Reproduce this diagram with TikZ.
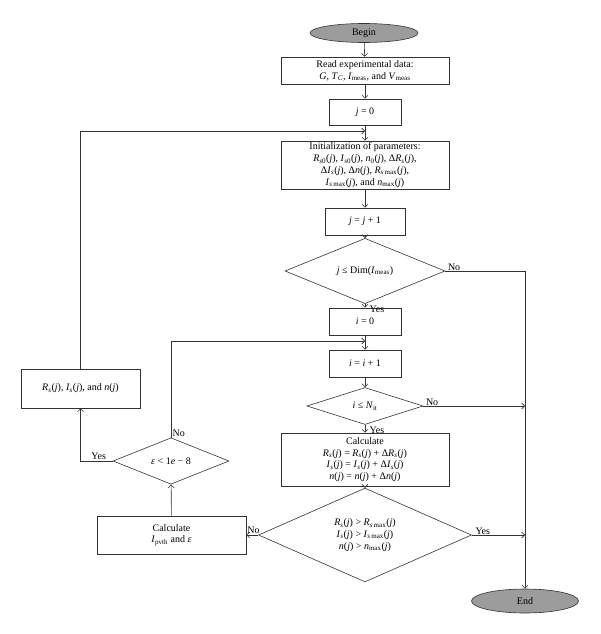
\documentclass[tikz,border=0pt]{standalone}
\usepackage{fontspec}
\setmainfont{Liberation Serif}
\usetikzlibrary{shapes.geometric,arrows.meta,calc}
\newcommand{\iv}[1]{\textit{#1}}
\newcommand{\sbs}[1]{\textsubscript{#1}}
\definecolor{lnc}{HTML}{333333}
\definecolor{ovl}{HTML}{9C9C9C}
\begin{document}
\begin{tikzpicture}[x=1pt,y=-1pt,
  every node/.style={font=\fontsize{10}{11.7}\selectfont, text=black},
  box/.style={draw=lnc, line width=0.6pt, rectangle, inner sep=1pt, align=center},
  dec/.style={draw=lnc, line width=0.6pt, diamond, inner sep=0pt, align=center},
  term/.style={draw=lnc, line width=0.6pt, ellipse, fill=ovl, inner sep=0pt},
  arr/.style={draw=lnc, line width=0.6pt, -{Straight Barb[length=3pt,width=6pt]}},
  lbl/.style={inner sep=0.5pt}]
\useasboundingbox (0,0) rectangle (600,634);
\node[term, minimum width=108pt, minimum height=19pt] (begin) at (364,33) {Begin};
\node[box, minimum width=168pt, minimum height=27pt] (read) at (365,70.5)
  {Read experimental data:\\ \iv{G}, \iv{T}\sbs{\iv{C}}, \iv{I}\sbs{meas}, and \iv{V}\sbs{meas}};
\node[box, minimum width=72pt, minimum height=26pt] (j0) at (365,112) {\iv{j} = 0};
\node[box, minimum width=168pt, minimum height=48pt] (init) at (365,165)
  {Initialization of parameters:\\
   \iv{R}\sbs{\iv{s}0}(\iv{j}), \iv{I}\sbs{\iv{s}0}(\iv{j}), \iv{n}\sbs{0}(\iv{j}), Δ\iv{R}\sbs{\iv{s}}(\iv{j}),\\
   Δ\iv{I}\sbs{\iv{s}}(\iv{j}), Δ\iv{n}(\iv{j}), \iv{R}\sbs{\iv{s}\,max}(\iv{j}),\\
   \iv{I}\sbs{\iv{s}\,max}(\iv{j}), and \iv{n}\sbs{max}(\iv{j})};
\node[box, minimum width=80pt, minimum height=27pt] (jj1) at (365,221.5) {\iv{j} = \iv{j} + 1};
\node[dec, minimum width=160pt, minimum height=52pt] (dec1) at (365,271) {\iv{j} ≤ Dim(\iv{I}\sbs{meas})};
\node[box, minimum width=72pt, minimum height=27pt] (i0) at (365,321.5) {\iv{i} = 0};
\node[box, minimum width=72pt, minimum height=27pt] (ii1) at (365,363.5) {\iv{i} = \iv{i} + 1};
\node[dec, minimum width=116pt, minimum height=37pt] (dec2) at (365,406) {\iv{i} ≤ \iv{N}\sbs{it}};
\node[box, minimum width=168pt, minimum height=53pt] (calc) at (365,459.5)
  {Calculate\\
   \iv{R}\sbs{\iv{s}}(\iv{j}) = \iv{R}\sbs{\iv{s}}(\iv{j}) + Δ\iv{R}\sbs{\iv{s}}(\iv{j})\\
   \iv{I}\sbs{\iv{s}}(\iv{j}) = \iv{I}\sbs{\iv{s}}(\iv{j}) + Δ\iv{I}\sbs{\iv{s}}(\iv{j})\\
   \iv{n}(\iv{j}) = \iv{n}(\iv{j}) + Δ\iv{n}(\iv{j})};
\node[dec, minimum width=213pt, minimum height=80pt] (dec3) at (365,535)
  {\iv{R}\sbs{\iv{s}}(\iv{j}) > \iv{R}\sbs{\iv{s}\,max}(\iv{j})\\
   \iv{I}\sbs{\iv{s}}(\iv{j}) > \iv{I}\sbs{\iv{s}\,max}(\iv{j})\\
   \iv{n}(\iv{j}) > \iv{n}\sbs{max}(\iv{j})};
\node[box, minimum width=149pt, minimum height=38pt] (calcI) at (171.5,535)
  {Calculate\\ \iv{I}\sbs{pvth} and \iv{ε}};
\node[dec, minimum width=116pt, minimum height=36pt] (eps) at (171,461) {\iv{ε} < 1\iv{e} − 8};
\node[box, minimum width=119pt, minimum height=39pt] (rs) at (80.5,388.5)
  {\iv{R}\sbs{\iv{s}}(\iv{j}), \iv{I}\sbs{\iv{s}}(\iv{j}), and \iv{n}(\iv{j})};
\node[term, minimum width=107pt, minimum height=24pt] (end) at (525,601) {End};
\coordinate (loopj) at (365,131);
\coordinate (loopi) at (365,341);
\coordinate (no2) at (525,406);
\coordinate (yes3) at (525,535);
% connectors
\draw[arr] (begin) -- (read);
\draw[arr] (read) -- (j0);
\draw[arr] (j0) -- (init);
\draw[arr] (rs.north) |- (loopj);
\draw[arr] (init) -- (jj1);
\draw[arr] (jj1) -- (dec1);
\draw[arr] (dec1.east) -| (end.north);
\draw[arr] (dec1) -- (i0);
\draw[arr] (i0) -- (ii1);
\draw[arr] (eps.north) |- (loopi);
\draw[arr] (ii1) -- (dec2);
\draw[arr] (dec2.east) -- (no2);
\draw[arr] (dec2) -- (calc);
\draw[arr] (calc) -- (dec3);
\draw[arr] (dec3.east) -- (yes3);
\draw[arr] (dec3.west) -- (calcI.east);
\draw[arr] (calcI) -- (eps);
\draw[arr] (eps.west) -| (rs.south);
% labels
\node[lbl, anchor=south west] (l1) at ($(dec1.east)+(2,0)$) {No};
\node[lbl, anchor=north west] (l2) at ($(dec1.south)+(4,1)$) {Yes};
\node[lbl, anchor=south west] (l3) at ($(dec2.east)+(2,0)$) {No};
\node[lbl, anchor=north west] (l4) at ($(dec2.south)+(4,1)$) {Yes};
\node[lbl, anchor=south west] (l5) at ($(dec3.east)+(3,0)$) {Yes};
\node[lbl, anchor=south east] (l6) at ($(dec3.west)+(2,-1)$) {No};
\node[lbl, anchor=south west] (l7) at ($(eps.north)+(1,0)$) {No};
\node[lbl, anchor=south east] (l8) at ($(eps.west)+(-6,-1)$) {Yes};
\end{tikzpicture}
\end{document}
